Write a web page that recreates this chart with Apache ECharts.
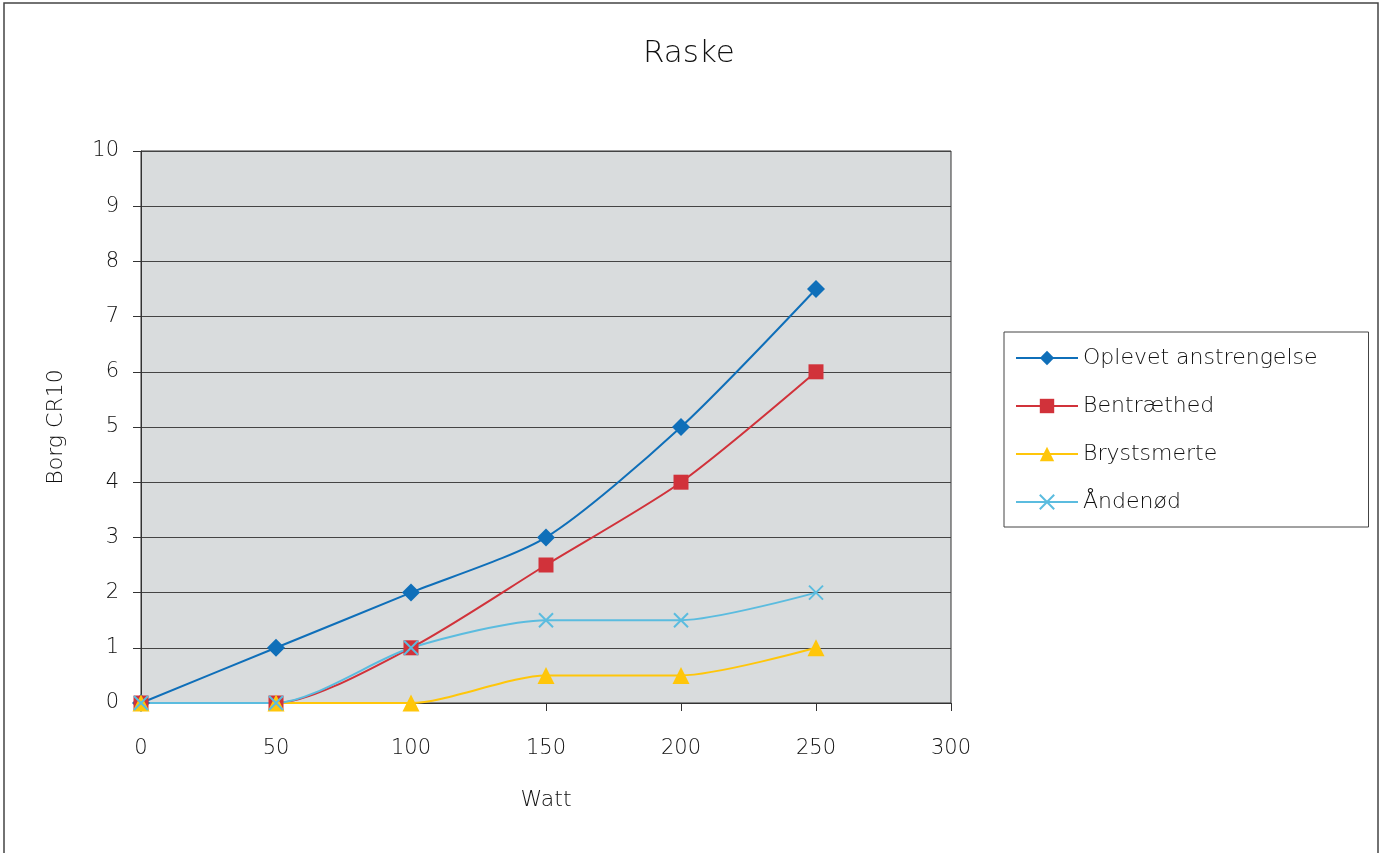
<!DOCTYPE html>
<html><head><meta charset="utf-8">
<script src="https://cdn.jsdelivr.net/npm/echarts@6/dist/echarts.min.js"></script>
<style>html,body{margin:0;padding:0;background:#fff}#c{width:1384px;height:853px}</style>
</head><body><div id="c"></div>
<script>
const watt = [0, 50, 100, 150, 200, 250];
const oplevet = [0, 1, 2, 3, 5, 7.5];
const bentraethed = [0, 0, 1, 2.5, 4, 6];
const brystsmerte = [0, 0, 0, 0.5, 0.5, 1];
const andenod = [0, 0, 1, 1.5, 1.5, 2];
const seriesNames = ['Oplevet anstrengelse', 'Bentræthed', 'Brystsmerte', 'Åndenød'];
const yTicks = [0,1,2,3,4,5,6,7,8,9,10];

const pair = arr => watt.map((w, i) => [w, arr[i]]);
const font = 'DejaVu Sans';
const fw = 200;
const txt = '#111';
const chart = echarts.init(document.getElementById('c'));
const xPath = 'path://M0,0 L10,10 M10,0 L0,10';
function mk(name, data, color, symbol, size, extra) {
  return Object.assign({
    name, type: 'line', data: pair(data), smooth: 0.25,
    symbol, symbolSize: size,
    lineStyle: { color, width: 2 },
    itemStyle: { color },
    emphasis: { disabled: true }
  }, extra || {});
}
chart.setOption({
  animation: false,
  backgroundColor: '#fff',
  title: { text: 'Raske', left: 638, top: 33,
    textStyle: { fontFamily: font, fontWeight: fw, fontSize: 31, color: txt } },
  grid: { left: 141, top: 151, right: 433, bottom: 150, show: true, backgroundColor: '#d9dcdd', borderColor: '#333', borderWidth: 1 },
  legend: {
    orient: 'vertical', left: 1004, top: 332,
    padding: [15, 51, 14, 11], itemGap: 26, itemWidth: 62, itemHeight: 18,
    borderColor: '#444', borderWidth: 1, backgroundColor: '#fff',
    textStyle: { fontFamily: font, fontWeight: fw, fontSize: 22, color: txt },
    data: seriesNames
  },
  xAxis: {
    type: 'value', min: 0, max: 300, interval: 50,
    name: 'Watt', nameLocation: 'middle', nameGap: 86,
    nameTextStyle: { fontFamily: font, fontWeight: fw, fontSize: 22, color: txt },
    axisLine: { show: true, lineStyle: { color: '#333', width: 1 } },
    axisTick: { show: true, length: 8, lineStyle: { color: '#333' } },
    axisLabel: { fontFamily: font, fontWeight: fw, fontSize: 21, color: txt, margin: 35 },
    splitLine: { show: false }
  },
  yAxis: {
    type: 'value', min: 0, max: 10, interval: 1,
    name: 'Borg CR10', nameLocation: 'middle', nameGap: 74,
    nameTextStyle: { fontFamily: font, fontWeight: fw, fontSize: 22, color: txt },
    axisLine: { show: true, lineStyle: { color: '#333', width: 1 } },
    axisTick: { show: true, length: 8, lineStyle: { color: '#333' } },
    axisLabel: { fontFamily: font, fontWeight: fw, fontSize: 21, color: txt, margin: 22,
      formatter: v => yTicks.includes(v) ? String(v) : '' },
    splitLine: { show: true, lineStyle: { color: '#444', width: 1 } }
  },
  series: [
    mk(seriesNames[0], oplevet, '#0f6fb9', 'diamond', 18),
    mk(seriesNames[1], bentraethed, '#d1323a', 'rect', 15),
    mk(seriesNames[2], brystsmerte, '#ffc60a', 'triangle', 17),
    mk(seriesNames[3], andenod, '#5bbcdf', xPath, 14, {
      itemStyle: { color: '#5bbcdf', borderColor: '#5bbcdf', borderWidth: 2 } })
  ],
  graphic: [{
    type: 'rect', shape: { x: 4, y: 3, width: 1374, height: 860 },
    style: { fill: 'none', stroke: '#444', lineWidth: 1.5 }, silent: true, z: 100
  }]
});
</script></body></html>
